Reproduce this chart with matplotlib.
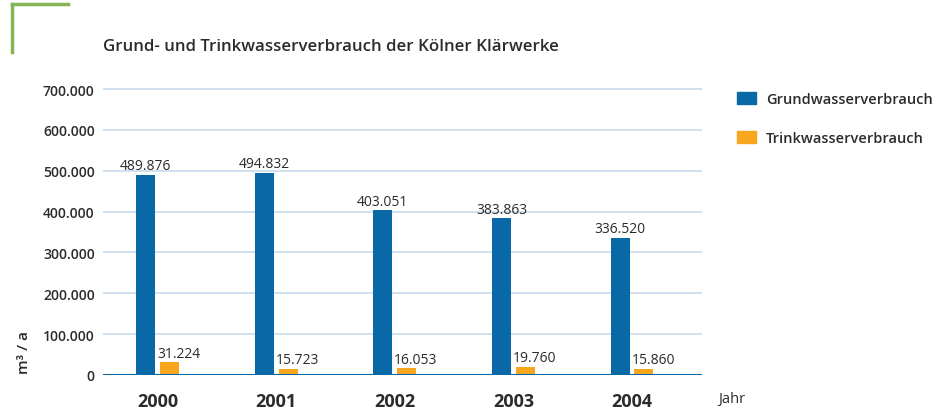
import matplotlib
matplotlib.use("Agg")
import matplotlib.pyplot as plt
from matplotlib.lines import Line2D
from matplotlib.patches import Patch
import numpy as np

plt.rcParams['font.family'] = ['Open Sans', 'DejaVu Sans']

years = ["2000", "2001", "2002", "2003", "2004"]
grundwasser = [489876, 494832, 403051, 383863, 336520]
trinkwasser = [31224, 15723, 16053, 19760, 15860]
yticks = [0, 100000, 200000, 300000, 400000, 500000, 600000, 700000]

BLUE = "#0869a6"
ORANGE = "#f8a61e"
GRID = "#c9dbec"
TEXT = "#2b2b2b"

def de(v):
    return f"{v:,}".replace(",", ".")

ytop = 705000
px_per = (376 - 90) / 700000
top_px = 376 - ytop * px_per
fig = plt.figure(figsize=(9.49, 4.14), dpi=100)
ax = fig.add_axes([103/949, 1-376/414, 599/949, (376-top_px)/414])

x = np.arange(len(years))
w = 0.16
off = 0.1
ax.bar(x - off, grundwasser, width=w, color=BLUE, zorder=3)
ax.bar(x + off, trinkwasser, width=w, color=ORANGE, zorder=3)

for xi, v in zip(x, grundwasser):
    ax.text(xi - off, v + 4000, de(v), ha='center', va='bottom', fontsize=10, color=TEXT)
for xi, v in zip(x, trinkwasser):
    ax.text(xi + off - w/2 - 0.025, v + 4000, de(v), ha='left', va='bottom', fontsize=10, color=TEXT)

ax.set_xlim(-0.46, 4.59)
ax.set_ylim(0, ytop)
ax.set_yticks(yticks)
ax.set_yticklabels([de(v) for v in yticks], fontsize=10, fontweight='semibold', color=TEXT)
ax.set_xticks(x)
ax.set_xticklabels(years, fontsize=13, fontweight='bold', color=TEXT)
ax.tick_params(axis='both', length=0)
ax.tick_params(axis='y', pad=6)
ax.tick_params(axis='x', pad=12)
for s in ax.spines.values():
    s.set_visible(False)
ax.grid(axis='y', color=GRID, linewidth=1.2, zorder=0)
ax.axhline(0, color=BLUE, linewidth=1.5, zorder=4)

ax.set_ylabel("m³ / a", fontsize=11, fontweight='semibold', color=TEXT)
ax.yaxis.set_label_coords(-0.12, 0.08)

fig.text(103/949, 1-47/414, "Grund- und Trinkwasserverbrauch der Kölner Klärwerke",
         fontsize=12.2, fontweight='semibold', color=TEXT, ha='left', va='center')
fig.text(718/949, 1-400/414, "Jahr", fontsize=10.5, color=TEXT, ha='left', va='center')

# green corner mark
fig.add_artist(Line2D([12/949, 68/949], [1-5/414, 1-5/414], color="#86b556", linewidth=2.5,
                      transform=fig.transFigure))
fig.add_artist(Line2D([12/949, 12/949], [1-5/414, 1-53/414], color="#86b556", linewidth=2.5,
                      transform=fig.transFigure))

handles = [Patch(color=BLUE, label="Grundwasserverbrauch"),
           Patch(color=ORANGE, label="Trinkwasserverbrauch")]
leg = fig.legend(handles=handles, loc='upper left', bbox_to_anchor=(731/949, 1-87/414),
                 frameon=False, handlelength=1.3, handleheight=0.85, borderaxespad=0,
                 labelspacing=1.75, handletextpad=0.7, prop={'weight': 'semibold', 'size': 10.5})
for t in leg.get_texts():
    t.set_color(TEXT)

fig.savefig("out.png", dpi=100)
